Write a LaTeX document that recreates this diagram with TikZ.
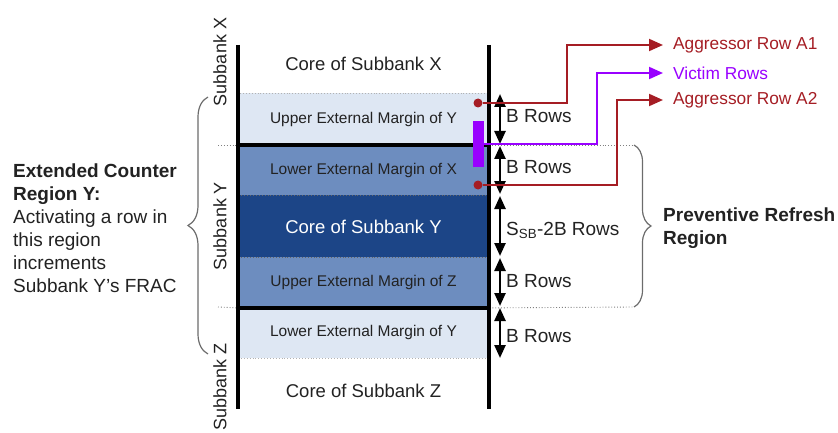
\documentclass[tikz,border=0pt]{standalone}
\usepackage{fontspec}
\setmainfont{Liberation Sans}
\usetikzlibrary{arrows.meta,decorations.pathreplacing,calc}
\definecolor{lightb}{HTML}{DEE7F3}
\definecolor{midb}{HTML}{6D8DBF}
\definecolor{darkb}{HTML}{1C4587}
\definecolor{aggred}{HTML}{A51D24}
\definecolor{vicpurple}{HTML}{9900FF}
\definecolor{txt}{HTML}{222222}
\begin{document}
\begin{tikzpicture}[x=1pt,y=-1pt,
  rowbox/.style={minimum width=251pt, inner sep=0pt, anchor=north, dotted, line width=0.9pt, text=txt, font=\fontsize{15.5}{18}\selectfont},
  corelbl/.style={text=txt, font=\fontsize{18.5}{22}\selectfont},
  sblbl/.style={rotate=90, text=txt, font=\fontsize{18}{22}\selectfont},
  thickline/.style={line width=4pt, black},
  hline/.style={line width=3.5pt, black},
  dotline/.style={dotted, line width=0.9pt, gray},
  dimarrow/.style={line width=2.4pt, {Triangle[length=13pt,width=11pt]}-{Triangle[length=13pt,width=11pt]}},
  dimlbl/.style={anchor=base west, inner sep=0pt, text=txt, font=\fontsize{19}{23}\selectfont},
  bracestyle/.style={draw=gray!85!black, line width=1.2pt, decorate},
  dot/.style={circle, fill=aggred, minimum size=9pt, inner sep=0pt},
  redline/.style={draw=aggred, line width=2pt, -{Triangle[length=14pt,width=12pt]}},
  purpline/.style={draw=vicpurple, line width=2pt, -{Triangle[length=14pt,width=12pt]}},
  ptr/.style={anchor=west, inner xsep=10pt, inner ysep=0pt, font=\fontsize{17.3}{20}\selectfont}
]
\useasboundingbox (0,0) rectangle (838,433);

% rows
\node[rowbox, fill=lightb, draw=gray!60, minimum height=52pt] (ueY) at (363.5,93) {Upper External Margin of Y};
\node[rowbox, fill=midb, draw=black!60, minimum height=50pt] (leX) at (363.5,145) {Lower External Margin of X};
\node[rowbox, fill=darkb, draw=black!60, minimum height=62pt, text=white, font=\fontsize{18.5}{22}\selectfont] (coreY) at (363.5,195) {Core of Subbank Y};
\node[rowbox, fill=midb, draw=black!60, minimum height=50pt] (ueZ) at (363.5,257) {Upper External Margin of Z};
\node[rowbox, fill=lightb, draw=gray!60, minimum height=51pt] (leY) at (363.5,307) {Lower External Margin of Y};
\node[corelbl] (coreX) at (363.5,64) {Core of Subbank X};
\node[corelbl] (coreZ) at (363.5,391) {Core of Subbank Z};

% subbank labels
\node[sblbl] (sbX) at (220,62) {Subbank X};
\node[sblbl] (sbY) at (220,226) {Subbank Y};
\node[sblbl] (sbZ) at (220,387) {Subbank Z};

% dotted extension lines
\coordinate (dl1) at (218,145);
\coordinate (dl2) at (218,307);
\coordinate (prTop) at (634,145);
\coordinate (prBot) at (634,307);
\draw[dotline] (dl1) -- (leX.north west);
\draw[dotline] (dl2) -- (ueZ.south west);
\draw[dotline] (leX.north east) -- (prTop);
\draw[dotline] (ueZ.south east) -- (prBot);

% thick borders
\coordinate (Ltop) at (238,45);
\coordinate (Lbot) at (238,409);
\coordinate (Rtop) at (489,45);
\coordinate (Rbot) at (489,409);
\draw[hline] (leX.north west) -- (leX.north east);
\draw[hline] (ueZ.south west) -- (ueZ.south east);
\draw[thickline] (Ltop) -- (Lbot);
\draw[thickline] (Rtop) -- (Rbot);

% dimension arrows
\coordinate (d1a) at (500,94);  \coordinate (d1b) at (500,144);
\coordinate (d2a) at (500,146); \coordinate (d2b) at (500,194);
\coordinate (d3a) at (500,196); \coordinate (d3b) at (500,256);
\coordinate (d4a) at (500,258); \coordinate (d4b) at (500,306);
\coordinate (d5a) at (500,308); \coordinate (d5b) at (500,358);
\draw[dimarrow] (d1a) -- (d1b);
\draw[dimarrow] (d2a) -- (d2b);
\draw[dimarrow] (d3a) -- (d3b);
\draw[dimarrow] (d4a) -- (d4b);
\draw[dimarrow] (d5a) -- (d5b);
\node[dimlbl] (b1) at (506,123) {B Rows};
\node[dimlbl] (b2) at (506,173) {B Rows};
\node[dimlbl] (b3) at (506,235) {S\textsubscript{SB}-2B Rows};
\node[dimlbl] (b4) at (506,287) {B Rows};
\node[dimlbl] (b5) at (506,342) {B Rows};

% braces
\coordinate (lbBot) at (208,354);
\coordinate (lbTop) at (208,97);
\draw[bracestyle, decoration={brace, amplitude=20pt}] (lbBot) -- (lbTop);
\draw[bracestyle, decoration={brace, amplitude=17pt}] (prTop) -- (prBot);

% side texts
\node[anchor=north west, inner sep=0pt, align=left, text=txt, font=\fontsize{19}{23}\selectfont] (ecr) at (13,164)
  {\textbf{Extended Counter}\\\textbf{Region Y:}\\Activating a row in\\this region\\increments\\Subbank Y’s FRAC};
\node[anchor=north west, inner sep=0pt, align=left, text=txt, font=\fontsize{19}{23}\bfseries\selectfont] (prr) at (663,208)
  {Preventive Refresh\\Region};

% aggressor / victim markers
\node[ptr, text=aggred] (la1) at (663,45) {Aggressor Row A1};
\node[ptr, text=vicpurple] (lv) at (663,73) {Victim Rows};
\node[ptr, text=aggred] (la2) at (663,100) {Aggressor Row A2};
\node[fill=vicpurple, minimum width=11pt, minimum height=46pt, inner sep=0pt] (vb) at (478.5,144) {};
\node[dot] (a1) at (478,103) {};
\node[dot] (a2) at (478,185) {};
\coordinate (a1bend) at (567,45);
\coordinate (vbend) at (597,73);
\coordinate (a2bend) at (617,100);
\draw[redline] (a1) -| (a1bend) -- (la1.west);
\draw[purpline] (vb.east) -| (vbend) -- (lv.west);
\draw[redline] (a2) -| (a2bend) -- (la2.west);
\end{tikzpicture}
\end{document}
